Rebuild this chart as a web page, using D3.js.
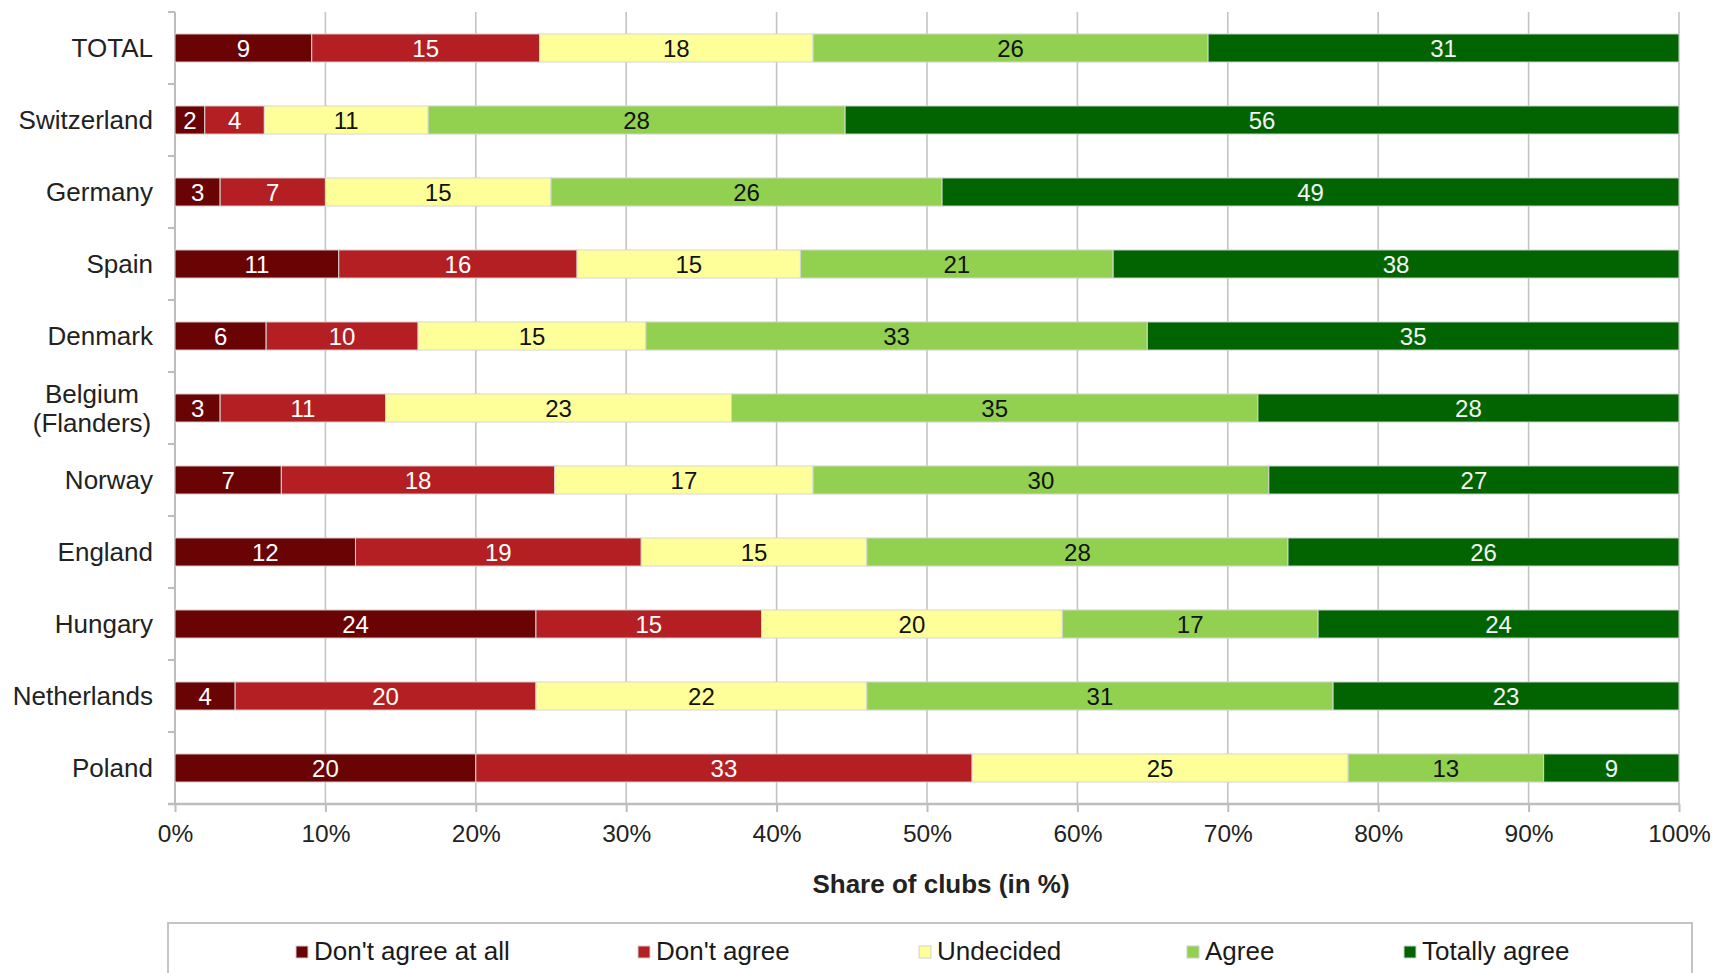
<!DOCTYPE html>
<html>
<head>
<meta charset="utf-8">
<script src="https://cdn.jsdelivr.net/npm/d3@7"></script>
<style>
  html, body { margin: 0; padding: 0; background: #fff; }
  svg { display: block; font-family: "Liberation Sans", Arial, sans-serif; }
</style>
</head>
<body>
<svg id="chart" width="1714" height="973"></svg>
<script>
// Categories (top to bottom)
const categories = ["TOTAL", "Switzerland", "Germany", "Spain", "Denmark", "Belgium\n(Flanders)",
  "Norway", "England", "Hungary", "Netherlands", "Poland"];

// Answer series (share of clubs, %)
const seriesNames = ["Don't agree at all", "Don't agree", "Undecided", "Agree", "Totally agree"];
const dontAgreeAtAll = [9, 2, 3, 11, 6, 3, 7, 12, 24, 4, 20];
const dontAgree      = [15, 4, 7, 16, 10, 11, 18, 19, 15, 20, 33];
const undecided      = [18, 11, 15, 15, 15, 23, 17, 15, 20, 22, 25];
const agree          = [26, 28, 26, 21, 33, 35, 30, 28, 17, 31, 13];
const totallyAgree   = [31, 56, 49, 38, 35, 28, 27, 26, 24, 23, 9];

const seriesColors = ["#690304", "#b31f22", "#ffff99", "#92d050", "#016401"];
const labelColors  = ["#ffffff", "#ffffff", "#111111", "#111111", "#f4f4f4"];

const xTickValues = [0, 0.1, 0.2, 0.3, 0.4, 0.5, 0.6, 0.7, 0.8, 0.9, 1.0];
const axisTitle = "Share of clubs (in %)";

// Rows for the stack layout
const seriesValues = [dontAgreeAtAll, dontAgree, undecided, agree, totallyAgree];
const rows = categories.map((c, i) => {
  const r = { category: c };
  seriesNames.forEach((s, k) => { r[s] = seriesValues[k][i]; });
  return r;
});

const svg = d3.select("#chart");
const plot = { left: 175, right: 1679, top: 12, bottom: 804 };

const x = d3.scaleLinear().domain([0, 1]).range([plot.left, plot.right]);
const y = d3.scaleBand().domain(categories).range([plot.top, plot.bottom])
  .paddingInner(0.61).paddingOuter(0.305);

const stacked = d3.stack().keys(seriesNames).offset(d3.stackOffsetExpand)(rows);

function label(parent, px, py, str, opts) {
  return parent.append("text")
    .attr("x", px).attr("y", py)
    .attr("text-anchor", opts.anchor || "middle")
    .attr("font-size", opts.size || 24)
    .attr("font-weight", opts.weight || "normal")
    .attr("fill", opts.fill || "#1a1a1a")
    .text(str);
}

// Vertical gridlines
svg.append("g").selectAll("line").data(xTickValues.slice(1)).join("line")
  .attr("x1", d => x(d)).attr("x2", d => x(d))
  .attr("y1", plot.top).attr("y2", plot.bottom)
  .attr("stroke", "#c4c4c4").attr("stroke-width", 1.6);

// Y axis: line and ticks at band boundaries
const step = y.step();
const yAxis = svg.append("g");
yAxis.append("line")
  .attr("x1", plot.left).attr("x2", plot.left)
  .attr("y1", plot.top).attr("y2", plot.bottom)
  .attr("stroke", "#bdbdbd").attr("stroke-width", 2);
yAxis.selectAll("line.tick").data(d3.range(categories.length + 1)).join("line")
  .attr("class", "tick")
  .attr("x1", plot.left - 7).attr("x2", plot.left)
  .attr("y1", i => plot.top + i * step).attr("y2", i => plot.top + i * step)
  .attr("stroke", "#bdbdbd").attr("stroke-width", 2);

// X axis
const xAxisG = svg.append("g").attr("transform", `translate(0,${plot.bottom})`)
  .call(d3.axisBottom(x).tickValues(xTickValues).tickFormat(d3.format(".0%")).tickSize(8).tickSizeOuter(0));
xAxisG.select(".domain").remove();
xAxisG.selectAll(".tick line").attr("stroke", "#bdbdbd").attr("stroke-width", 2);
xAxisG.selectAll(".tick text")
  .attr("font-family", "'Liberation Sans', Arial, sans-serif")
  .attr("font-size", 24.5).attr("fill", "#222").attr("dy", null).attr("y", 38);
xAxisG.append("line")
  .attr("x1", plot.left - 7).attr("x2", plot.right)
  .attr("y1", 0).attr("y2", 0)
  .attr("stroke", "#bdbdbd").attr("stroke-width", 2.5);

// Bars
const layers = svg.append("g").selectAll("g.layer").data(stacked).join("g")
  .attr("class", "layer");
layers.selectAll("rect").data(d => d.map(p => ({ p, key: d.key }))).join("rect")
  .attr("x", d => x(d.p[0]))
  .attr("width", d => x(d.p[1]) - x(d.p[0]))
  .attr("y", d => y(d.p.data.category))
  .attr("height", y.bandwidth())
  .attr("fill", d => seriesColors[seriesNames.indexOf(d.key)])
  .attr("stroke", "#d6d6d6").attr("stroke-width", 1);

// Value labels
const valueLayer = svg.append("g");
stacked.forEach((layer, k) => {
  layer.forEach(p => {
    const cx = (x(p[0]) + x(p[1])) / 2;
    const cy = y(p.data.category) + y.bandwidth() / 2 + 8.5;
    label(valueLayer, cx, cy, String(p.data[layer.key]), { size: 24, fill: labelColors[k] });
  });
});

// Category labels
const catLayer = svg.append("g");
categories.forEach(c => {
  const lines = c.split("\n");
  const cy = y(c) + y.bandwidth() / 2;
  const lh = 29;
  if (lines.length === 1) {
    label(catLayer, 153, cy + 9, c, { anchor: "end", size: 26, fill: "#222" });
  } else {
    // wrapped label: lines centred on each other, right edge aligned with the other labels
    lines.forEach((ln, i) => {
      label(catLayer, 153 - 61, cy + 9 + (i - (lines.length - 1) / 2) * lh, ln,
        { anchor: "middle", size: 26, fill: "#222" });
    });
  }
});

// Axis title
label(svg, 941, 893, axisTitle, { size: 26, weight: "bold", fill: "#222" });

// Legend
const legend = svg.append("g");
legend.append("rect")
  .attr("x", 168).attr("y", 923).attr("width", 1524).attr("height", 80)
  .attr("fill", "#fff").attr("stroke", "#c4c4c4").attr("stroke-width", 2);
const legendX = [296, 638, 919, 1187, 1404];
seriesNames.forEach((s, k) => {
  legend.append("rect")
    .attr("x", legendX[k]).attr("y", 946).attr("width", 12).attr("height", 12)
    .attr("fill", seriesColors[k]).attr("stroke", "#d0d0d0").attr("stroke-width", 1);
  legend.append("text")
    .attr("x", legendX[k] + 18).attr("y", 960)
    .attr("font-size", 26).attr("fill", "#1a1a1a")
    .text(s);
});
</script>
</body>
</html>
